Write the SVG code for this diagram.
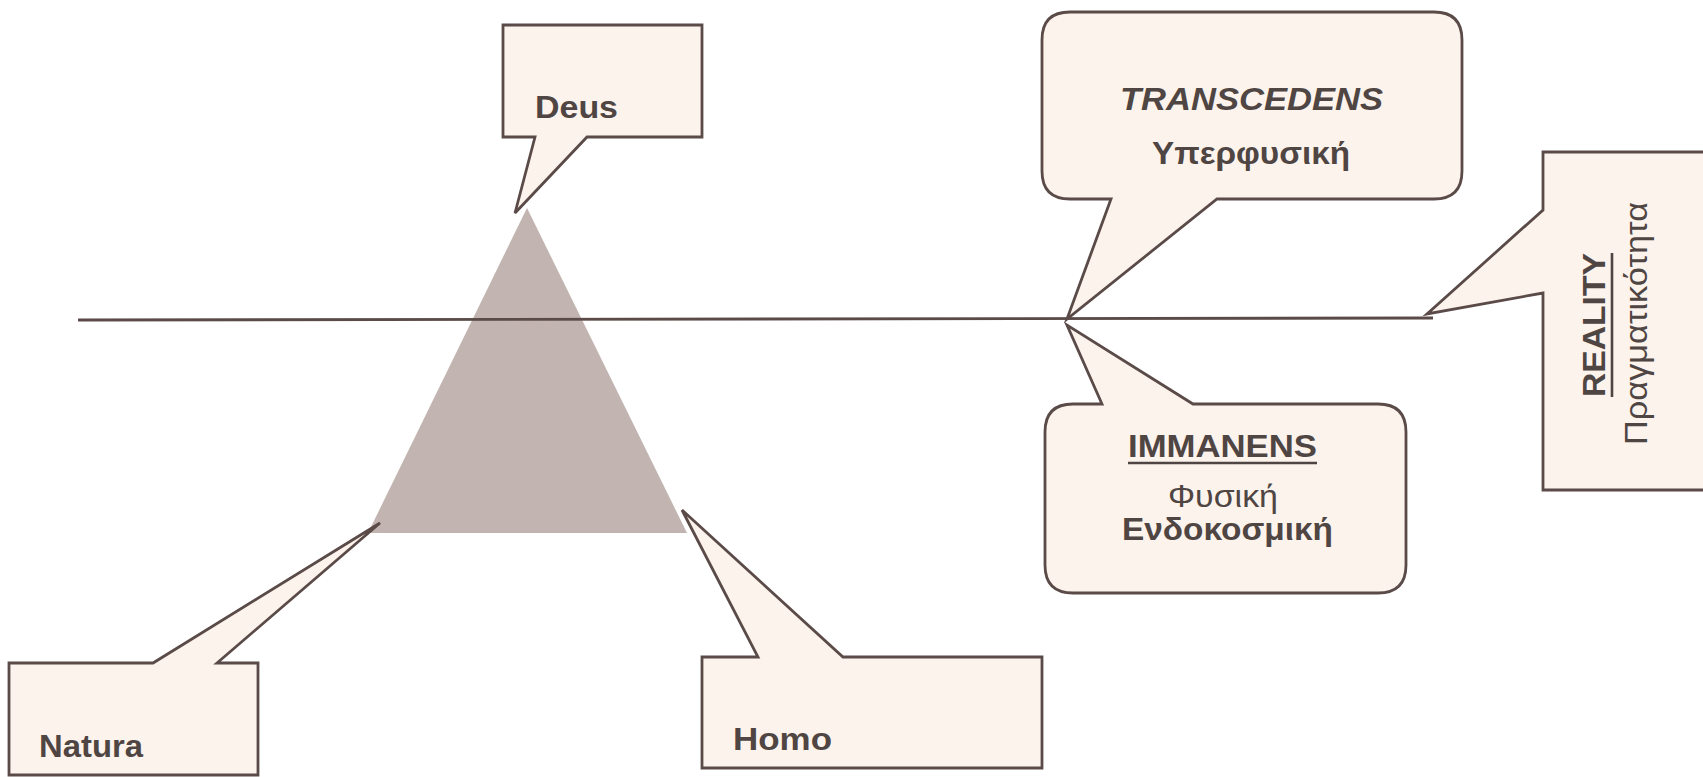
<svg xmlns="http://www.w3.org/2000/svg" width="1703" height="777" viewBox="0 0 1703 777">
  <style>
    .co { fill: #fcf3ec; stroke: #5a4b48; stroke-width: 2.8; stroke-linejoin: miter; }
    .t { font-family: "Liberation Sans", Arial, sans-serif; font-size: 31px; fill: #4f4543; }
    .b { font-weight: bold; }
    .i { font-style: italic; }
    .ul { stroke: #4f4543; stroke-width: 2.6; }
    .conn { stroke: #5a4b48; stroke-width: 2.8; fill: none; }
  </style>
  <rect x="0" y="0" width="1703" height="777" fill="#ffffff"/>

  <g id="triangle">
    <polygon points="527,208 368,533 687,533" fill="#c2b5b1"/>
  </g>

  <g id="connectors">
    <line class="conn" x1="78" y1="320" x2="1433" y2="318"/>
  </g>

  <g id="deus">
    <path class="co" d="M503,25 H702 V137 H587 L515,213 L535,137 H503 Z"/>
    <text class="t b" x="535" y="118" textLength="83" lengthAdjust="spacingAndGlyphs">Deus</text>
  </g>

  <g id="natura">
    <path class="co" d="M9,663 H153 L380,523 L217,663 H258 V775 H9 Z"/>
    <text class="t b" x="39" y="757" textLength="104" lengthAdjust="spacingAndGlyphs">Natura</text>
  </g>

  <g id="homo">
    <path class="co" d="M702,657 H758 L682,510 L843,657 H1042 V768 H702 Z"/>
    <text class="t b" x="733" y="750" textLength="99" lengthAdjust="spacingAndGlyphs">Homo</text>
  </g>

  <g id="transcedens">
    <path class="co" d="M1070,12 H1434 Q1462,12 1462,40 V171 Q1462,199 1434,199 H1217 L1067,319 L1111,199 H1070 Q1042,199 1042,171 V40 Q1042,12 1070,12 Z"/>
    <text class="t b i" x="1120" y="110" textLength="263" lengthAdjust="spacingAndGlyphs">TRANSCEDENS</text>
    <text class="t b" x="1152" y="164" textLength="198" lengthAdjust="spacingAndGlyphs">Υπερφυσική</text>
  </g>

  <g id="immanens">
    <path class="co" d="M1073,404 H1102 L1067,325 L1193,404 H1378 Q1406,404 1406,432 V565 Q1406,593 1378,593 H1073 Q1045,593 1045,565 V432 Q1045,404 1073,404 Z"/>
    <text class="t b" x="1128" y="457" textLength="189" lengthAdjust="spacingAndGlyphs">IMMANENS</text>
    <line class="ul" x1="1128" y1="463" x2="1317" y2="463"/>
    <text class="t" x="1168" y="507" textLength="110" lengthAdjust="spacingAndGlyphs">Φυσική</text>
    <text class="t b" x="1122" y="540" textLength="211" lengthAdjust="spacingAndGlyphs">Ενδοκοσμική</text>
  </g>

  <g id="reality">
    <path class="co" d="M1543,152 H1710 V490 H1543 V293 L1427,314 L1543,210 Z"/>
    <text class="t b" transform="translate(1605,397) rotate(-90)" x="0" y="0" textLength="144" lengthAdjust="spacingAndGlyphs">REALITY</text>
    <line class="ul" x1="1612" y1="253" x2="1612" y2="397"/>
    <text class="t" transform="translate(1647,445) rotate(-90)" x="0" y="0" textLength="243" lengthAdjust="spacingAndGlyphs">Πραγματικότητα</text>
  </g>
</svg>
